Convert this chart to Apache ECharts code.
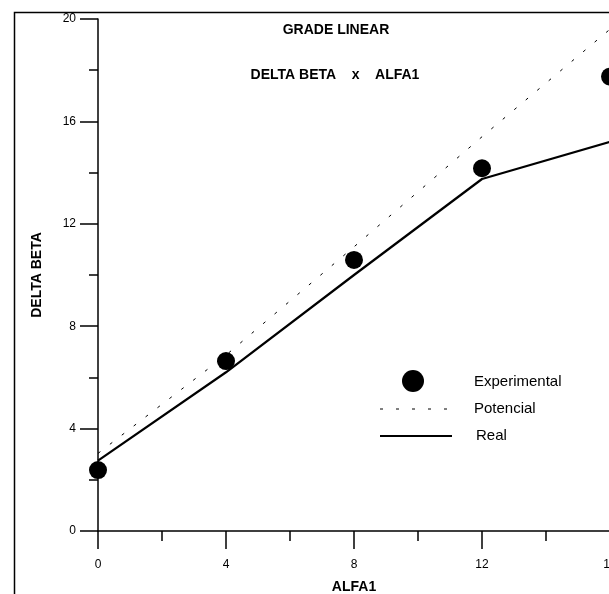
<!DOCTYPE html>
<html>
<head>
<meta charset="utf-8">
<script src="https://cdn.jsdelivr.net/npm/echarts@6/dist/echarts.min.js"></script>
<style>html,body{margin:0;padding:0;background:#fff;}#chart{width:609px;height:594px;}</style>
</head>
<body>
<div id="chart"></div>
<script>
const alfa1 = [0, 4, 8, 12, 16];
const experimental = [2.38, 6.64, 10.59, 14.17, 17.75];
const potencial = [3.03, 6.87, 11.1, 15.4, 19.6];
const real = [2.75, 6.2, 10.0, 13.75, 15.2];
const xTicks = [0, 4, 8, 12, 16];
const yTicks = [0, 4, 8, 12, 16, 20];

const font = 'Liberation Sans, Arial, sans-serif';
const pair = (ys) => alfa1.map((x, i) => [x, ys[i]]);

const chart = echarts.init(document.getElementById('chart'), null, {renderer: 'canvas'});
chart.setOption({
  backgroundColor: '#fff',
  animation: false,
  title: [
    {text: 'GRADE LINEAR', left: 331, top: 18, textAlign: 'center',
     textStyle: {fontFamily: font, fontSize: 14, fontWeight: 'bold', color: '#000'}},
    {text: 'DELTA BETA    x    ALFA1', left: 330, top: 63, textAlign: 'center',
     textStyle: {fontFamily: font, fontSize: 14, fontWeight: 'bold', color: '#000'}}
  ],
  grid: {left: 98, top: 19, width: 512, height: 512, outerBoundsMode: 'none', containLabel: false},
  xAxis: {
    type: 'value', min: xTicks[0], max: xTicks[xTicks.length - 1], interval: 4,
    name: 'ALFA1', nameLocation: 'middle', nameGap: 49,
    nameTextStyle: {fontFamily: font, fontSize: 14, fontWeight: 'bold', color: '#000'},
    axisLine: {show: true, onZero: false, lineStyle: {color: '#000', width: 1.5}},
    axisTick: {show: true, inside: false, length: 18, lineStyle: {color: '#000', width: 1.5}},
    minorTick: {show: true, splitNumber: 2, length: 10, lineStyle: {color: '#000', width: 1.5}},
    axisLabel: {margin: 28, fontFamily: font, fontSize: 12, color: '#000', showMaxLabel: true},
    splitLine: {show: false}
  },
  yAxis: {
    type: 'value', min: yTicks[0], max: yTicks[yTicks.length - 1], interval: 4,
    name: 'DELTA BETA', nameLocation: 'middle', nameGap: 54,
    nameTextStyle: {fontFamily: font, fontSize: 14, fontWeight: 'bold', color: '#000'},
    axisLine: {show: true, onZero: false, lineStyle: {color: '#000', width: 1.5}},
    axisTick: {show: true, inside: false, length: 18, lineStyle: {color: '#000', width: 1.5}},
    minorTick: {show: true, splitNumber: 2, length: 9, lineStyle: {color: '#000', width: 1.5}},
    axisLabel: {margin: 22, fontFamily: font, fontSize: 12, color: '#000'},
    splitLine: {show: false}
  },
  series: [
    {name: 'Potencial', type: 'line', data: pair(potencial), showSymbol: false, clip: false,
     lineStyle: {color: '#000', width: 1, type: [3, 12]}, z: 2},
    {name: 'Real', type: 'line', data: pair(real), showSymbol: false, clip: false,
     lineStyle: {color: '#000', width: 2.2}, z: 3},
    {name: 'Experimental', type: 'scatter', data: pair(experimental), symbol: 'circle', symbolSize: 18,
     itemStyle: {color: '#000', opacity: 1}, clip: false, z: 4}
  ],
  graphic: [
    {type: 'rect', left: 12, top: 10, shape: {width: 800, height: 800}, style: {fill: 'none', stroke: '#000', lineWidth: 1.5}, z: 0},
    {type: 'circle', shape: {cx: 413, cy: 381, r: 11}, style: {fill: '#000'}},
    {type: 'text', left: 474, top: 374, style: {text: 'Experimental', font: '15px ' + font, fill: '#000'}},
    {type: 'line', shape: {x1: 380, y1: 409, x2: 447, y2: 409}, style: {stroke: '#000', lineWidth: 1, lineDash: [3, 13]}},
    {type: 'text', left: 474, top: 401, style: {text: 'Potencial', font: '15px ' + font, fill: '#000'}},
    {type: 'line', shape: {x1: 380, y1: 436, x2: 452, y2: 436}, style: {stroke: '#000', lineWidth: 2.2}},
    {type: 'text', left: 476, top: 428, style: {text: 'Real', font: '15px ' + font, fill: '#000'}}
  ]
});
</script>
</body>
</html>
